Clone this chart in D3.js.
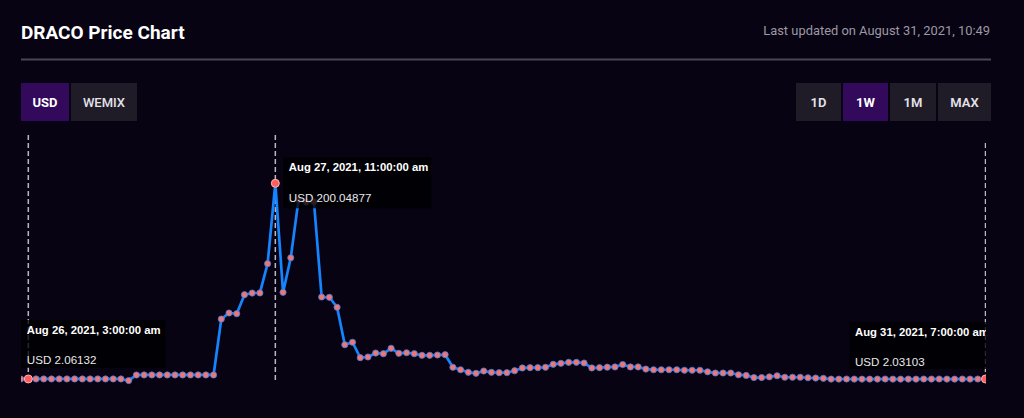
<!DOCTYPE html>
<html>
<head>
<meta charset="utf-8">
<script src="https://cdn.jsdelivr.net/npm/d3@7"></script>
<style>
  body { margin: 0; background: #080312; }
  svg { display: block; }
</style>
</head>
<body>
<svg id="chart" width="1024" height="418"></svg>
<script>
// hourly DRACO price (USD), from Aug 26 02:00 to Aug 31 07:00
const aug26 = [2.05, 2.06132, 2.06, 2.06, 2.06, 2.05, 2.06, 2.06, 2.06, 2.05, 2.06, 2.06, 2.06, 2.05,
  0.45, 6.08, 6.1, 6.1, 6.12, 6.1, 6.1, 6.1];
const aug27 = [6.1, 6.12, 6.1, 6.1, 62.7, 68.8, 68.1, 87.3, 89.0, 89.1, 118.7, 200.04877,
  89.7, 124.7, 183.1, 181.1, 181.4, 85.0, 84.7, 74.6, 36.7, 39.2, 23.6, 24.3];
const aug28 = [28.3, 27.6, 33.1, 28.0, 28.6, 27.6, 26.0, 26.0, 26.3, 26.6, 13.9, 11.4,
  8.8, 7.8, 10.1, 8.8, 8.4, 8.4, 10.4, 13.2, 13.5, 13.5, 13.9, 16.9];
const aug29 = [17.9, 18.9, 18.9, 18.2, 13.2, 13.5, 14.0, 14.2, 16.7, 14.2, 14.2, 12.1,
  11.4, 11.4, 11.4, 11.4, 10.9, 10.9, 10.9, 9.3, 8.1, 8.1, 8.1, 6.3];
const aug30 = [5.6, 3.5, 3.5, 4.2, 5.3, 3.8, 3.8, 3.8, 3.3, 3.0, 2.7, 1.95,
  1.9, 2.0, 1.95, 1.9, 1.9, 1.95, 2.0, 1.9, 1.9, 1.95, 1.9, 2.0];
const aug31 = [1.95, 2.0, 1.95, 1.9, 2.0, 1.95, 2.0, 2.03103];

const startHour = new Date(2021, 7, 26, 2);
const currencies = ["USD", "WEMIX"];
const ranges = ["1D", "1W", "1M", "MAX"];
const activeCurrency = "USD";
const activeRange = "1W";
// hovered points shown with a tooltip
const markedHours = [new Date(2021, 7, 26, 3), new Date(2021, 7, 27, 11), new Date(2021, 7, 31, 7)];
const title = "DRACO Price Chart";
const updated = "Last updated on August 31, 2021, 10:49";

const prices = [].concat(aug26, aug27, aug28, aug29, aug30, aug31);
const data = prices.map((v, i) => ({ t: d3.timeHour.offset(startHour, i), v: v }));

const width = 1024, height = 418;
const left = 21, right = 991;
const svg = d3.select("#chart");

// header
svg.append("text")
  .attr("x", left).attr("y", 39)
  .attr("fill", "#ffffff")
  .style("font", "700 19px Roboto, sans-serif")
  .text(title);

svg.append("text")
  .attr("x", right - 1).attr("y", 35)
  .attr("text-anchor", "end")
  .attr("fill", "#9c99a4")
  .style("font", "400 12.9px Roboto, sans-serif")
  .text(updated);

svg.append("rect")
  .attr("x", left).attr("y", 58.5)
  .attr("width", right - left).attr("height", 2)
  .attr("fill", "#4a4752");

// buttons
function buttons(labels, widths, x0, active, weights) {
  let x = x0;
  labels.forEach(function (d, i) {
    const g = svg.append("g").attr("transform", `translate(${x},83)`);
    g.append("rect")
      .attr("width", widths[i]).attr("height", 38)
      .attr("fill", d === active ? "#33095c" : "#1f1c28");
    g.append("text")
      .attr("x", widths[i] / 2).attr("y", 24)
      .attr("text-anchor", "middle")
      .attr("fill", d === active ? "#ffffff" : "#e4e2e8")
      .style("font", `${d === active ? 700 : weights[i]} 13px Roboto, sans-serif`)
      .text(d);
    x += widths[i] + 2;
  });
}
buttons(currencies, [48, 66], left, activeCurrency, [700, 500]);
const rangeWidths = [45, 45, 46, 53];
buttons(ranges, rangeWidths, right - d3.sum(rangeWidths) - 2 * (rangeWidths.length - 1), activeRange, [600, 700, 600, 600]);

// scales
const x = d3.scaleTime()
  .domain(d3.extent(data, d => d.t))
  .range([20.6, 985.5]);
const y = d3.scaleLinear()
  .domain([0, d3.max(prices)])
  .range([381, 183.3]);

svg.append("defs").append("clipPath").attr("id", "plotclip")
  .append("rect").attr("x", 21).attr("y", 125).attr("width", 965).attr("height", 270);

const plot = svg.append("g").attr("clip-path", "url(#plotclip)");

const marked = markedHours.map(t => data.find(d => +d.t === +t));

// crosshair lines
plot.selectAll("line.cross")
  .data(marked)
  .join("line")
  .attr("class", "cross")
  .attr("x1", d => x(d.t)).attr("x2", d => x(d.t))
  .attr("y1", (d, i) => i === 2 ? 143 : 135).attr("y2", 381)
  .attr("stroke", "#b9b7bf")
  .attr("stroke-width", 1.5)
  .attr("stroke-dasharray", "5,3");

// price line
const line = d3.line().x(d => x(d.t)).y(d => y(d.v));
plot.append("path")
  .datum(data)
  .attr("d", line)
  .attr("fill", "none")
  .attr("stroke", "#1584ff")
  .attr("stroke-width", 2.7)
  .attr("stroke-linejoin", "round");

plot.selectAll("circle.pt")
  .data(data)
  .join("circle")
  .attr("class", "pt")
  .attr("cx", d => x(d.t)).attr("cy", d => y(d.v))
  .attr("r", 3.1)
  .attr("fill", "#ef7576")
  .attr("stroke", "#3d7fe0")
  .attr("stroke-width", 0.8);

plot.selectAll("circle.hl")
  .data(marked)
  .join("circle")
  .attr("class", "hl")
  .attr("cx", d => x(d.t)).attr("cy", d => y(d.v))
  .attr("r", 4)
  .attr("fill", "#ff5e5e")
  .attr("stroke", "#ffb3b3")
  .attr("stroke-width", 1);

// tooltips
const fmt = d3.timeFormat("%b %d, %Y, %-I:%M:%S %p");
const tipW = 148;
function tipBox(d, i) {
  const px = x(d.t), py = y(d.v);
  if (i === 0) return [Math.max(21, px - 7), py - 59, 144, 48];
  if (i === 1) return [px + 8, py - 26, tipW, 51];
  return [px - 136, py - 57, tipW, 47];
}
const tips = plot.selectAll("g.tip")
  .data(marked)
  .join("g")
  .attr("class", "tip");
tips.append("rect")
  .attr("x", (d, i) => tipBox(d, i)[0])
  .attr("y", (d, i) => tipBox(d, i)[1])
  .attr("width", (d, i) => tipBox(d, i)[2])
  .attr("height", (d, i) => tipBox(d, i)[3])
  .attr("fill", "rgba(0,0,0,0.78)");
tips.append("text")
  .attr("x", (d, i) => tipBox(d, i)[0] + 5.5)
  .attr("y", (d, i) => tipBox(d, i)[1] + 14)
  .attr("fill", "#ffffff")
  .style("font", "700 11.3px 'Liberation Sans', Arial, sans-serif")
  .text(d => fmt(d.t).replace("AM", "am").replace("PM", "pm"));
tips.append("text")
  .attr("x", (d, i) => tipBox(d, i)[0] + 5.5)
  .attr("y", (d, i) => tipBox(d, i)[1] + 44.5)
  .attr("fill", "#e8e8ec")
  .style("font", "400 11.6px 'Liberation Sans', Arial, sans-serif")
  .text(d => "USD " + d.v);
</script>
</body>
</html>
